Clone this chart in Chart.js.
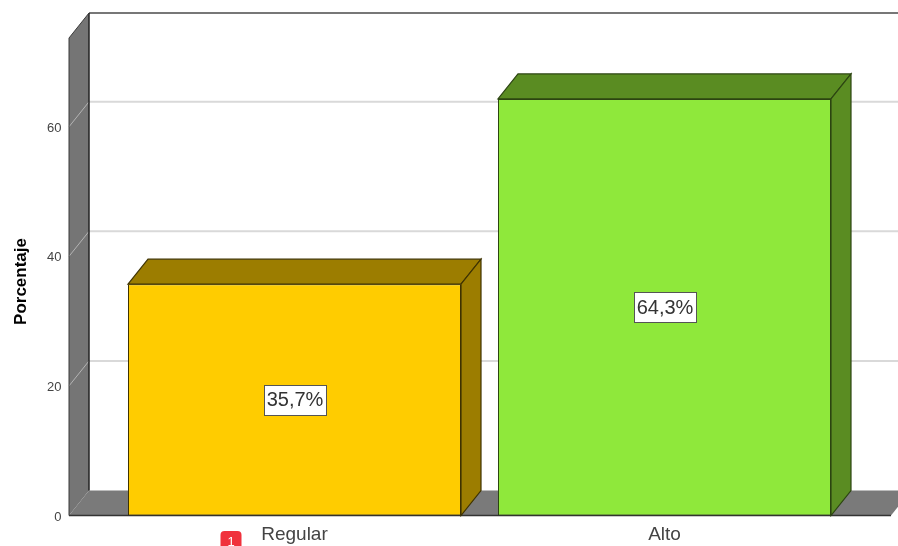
<!DOCTYPE html>
<html><head><meta charset="utf-8">
<style>html,body{margin:0;padding:0;background:#fff;overflow:hidden}#w{width:898px;height:546px;position:relative}canvas{display:block;filter:blur(0.4px)}</style>
<script src="https://cdn.jsdelivr.net/npm/chart.js@4/dist/chart.umd.min.js"></script>
</head><body><div id="w"><canvas id="c"></canvas></div>
<script>
const categories = ['Regular', 'Alto'];
const percentages = [35.7, 64.3];
const pointLabels = ['35,7%', '64,3%'];
const yTickValues = [0, 20, 40, 60];
const yTitle = 'Porcentaje';
const badgeText = '1';
const yMax = 73.7;

const frontColors = ['#FFCC00', '#8FE83B'];
const shadeColors = ['#9C7D00', '#5A8C22'];
const edgeColors = ['#3F3300', '#2C4511'];
const DX = 20, DY = -25;

function poly(ctx, pts, fill, stroke, lw) {
  ctx.beginPath();
  pts.forEach((p, i) => i ? ctx.lineTo(p[0], p[1]) : ctx.moveTo(p[0], p[1]));
  ctx.closePath();
  if (fill) { ctx.fillStyle = fill; ctx.fill(); }
  if (stroke) { ctx.strokeStyle = stroke; ctx.lineWidth = lw || 1; ctx.stroke(); }
}

const box3d = {
  id: 'box3d',
  beforeDatasetsDraw(chart) {
    const ctx = chart.ctx, xs = chart.scales.x, ys = chart.scales.y;
    const L = xs.left - 40.5, R = xs.right + 41.5, B = ys.getPixelForValue(0), T = ys.top;
    ctx.save();
    ctx.strokeStyle = '#777'; ctx.lineWidth = 2;
    ctx.beginPath(); ctx.moveTo(L + DX, T + DY); ctx.lineTo(chart.width + 5, T + DY); ctx.stroke();
    poly(ctx, [[L, T], [L + DX, T + DY], [L + DX, B + DY], [L, B]], '#757575');
    poly(ctx, [[L, B], [L + DX, B + DY], [R + DX, B + DY], [R, B]], '#7A7A7A');
    yTickValues.slice(1).forEach(v => {
      const y = ys.getPixelForValue(v);
      ctx.strokeStyle = '#B4B4B4'; ctx.lineWidth = 1;
      ctx.beginPath(); ctx.moveTo(L, y); ctx.lineTo(L + DX, y + DY); ctx.stroke();
      ctx.strokeStyle = '#D9D9D9'; ctx.lineWidth = 2;
      ctx.beginPath(); ctx.moveTo(L + DX, y + DY); ctx.lineTo(chart.width + 5, y + DY); ctx.stroke();
    });
    ctx.strokeStyle = '#222'; ctx.lineWidth = 1.5;
    ctx.beginPath();
    ctx.moveTo(L + DX, T + DY); ctx.lineTo(L + DX, B + DY);
    ctx.stroke();
    ctx.strokeStyle = '#3a3a3a'; ctx.lineWidth = 1;
    ctx.beginPath();
    ctx.moveTo(L, B); ctx.lineTo(L, T); ctx.lineTo(L + DX, T + DY);
    ctx.stroke();
    ctx.strokeStyle = '#333'; ctx.lineWidth = 1.5;
    ctx.beginPath(); ctx.moveTo(L, B); ctx.lineTo(R, B); ctx.stroke();
    ctx.restore();
  },
  afterDatasetsDraw(chart) {
    const ctx = chart.ctx;
    ctx.save();
    chart.getDatasetMeta(0).data.forEach((bar, i) => {
      const hw = bar.width / 2, l = bar.x - hw, r = bar.x + hw, t = bar.y, b = bar.base;
      poly(ctx, [[l, t], [l + DX, t + DY], [r + DX, t + DY], [r, t]], shadeColors[i], edgeColors[i], 1.2);
      poly(ctx, [[r, t], [r + DX, t + DY], [r + DX, b + DY], [r, b]], shadeColors[i], edgeColors[i], 1.2);
      const cy = (t + b) / 2, w = 62, h = 30;
      ctx.fillStyle = '#fff'; ctx.strokeStyle = '#555'; ctx.lineWidth = 1;
      ctx.fillRect(Math.round(bar.x - w / 2) + .5, Math.round(cy - h / 2) + .5, w, h);
      ctx.strokeRect(Math.round(bar.x - w / 2) + .5, Math.round(cy - h / 2) + .5, w, h);
      ctx.fillStyle = '#333'; ctx.font = '20px "Liberation Sans"';
      ctx.textAlign = 'center'; ctx.textBaseline = 'middle';
      ctx.fillText(pointLabels[i], bar.x + .5, cy + 1);
    });
    // axis title
    ctx.save();
    ctx.translate(21, 281.5); ctx.rotate(-Math.PI / 2);
    ctx.fillStyle = '#000'; ctx.font = 'bold 17px "Liberation Sans"';
    ctx.textAlign = 'center'; ctx.textBaseline = 'middle';
    ctx.fillText(yTitle, 0, 0);
    ctx.restore();
    // small red badge below the axis
    const bx = chart.scales.x.getPixelForValue(0) - 74;
    ctx.fillStyle = '#F0313C';
    ctx.beginPath(); ctx.roundRect(bx, 531, 21, 24, 4); ctx.fill();
    ctx.fillStyle = '#fff'; ctx.font = '13px "Liberation Sans"';
    ctx.textAlign = 'center'; ctx.textBaseline = 'middle';
    ctx.fillText(badgeText, bx + 10.5, 542);
    ctx.restore();
  }
};

new Chart(document.getElementById('c'), {
  type: 'bar',
  data: { labels: categories, datasets: [{
    data: percentages,
    backgroundColor: frontColors,
    borderColor: edgeColors,
    borderWidth: 1,
    borderSkipped: false,
    categoryPercentage: 1,
    barPercentage: 0.9
  }]},
  options: {
    responsive: true, maintainAspectRatio: false, animation: false,
    layout: { padding: { top: 38, right: 48.5, left: 0, bottom: 0 } },
    plugins: { legend: { display: false }, tooltip: { enabled: false } },
    scales: {
      x: {
        grid: { display: false }, border: { display: false },
        afterFit: s => { s.height = 30.5; s.paddingLeft = 0; s.paddingRight = 0; },
        ticks: { color: '#444', font: { family: 'Liberation Sans', size: 19 }, padding: 0, maxRotation: 0 }
      },
      y: {
        min: 0, max: yMax,
        afterBuildTicks: s => { s.ticks = yTickValues.map(v => ({ value: v })); },
        afterFit: s => { s.width = 109.5; s.paddingTop = 0; s.paddingBottom = 0; },
        grid: { display: false }, border: { display: false },
        ticks: { color: '#444', font: { family: 'Liberation Sans', size: 13 }, padding: 40, labelOffset: 1.5 }
      }
    }
  },
  plugins: [box3d]
});
</script></body></html>
